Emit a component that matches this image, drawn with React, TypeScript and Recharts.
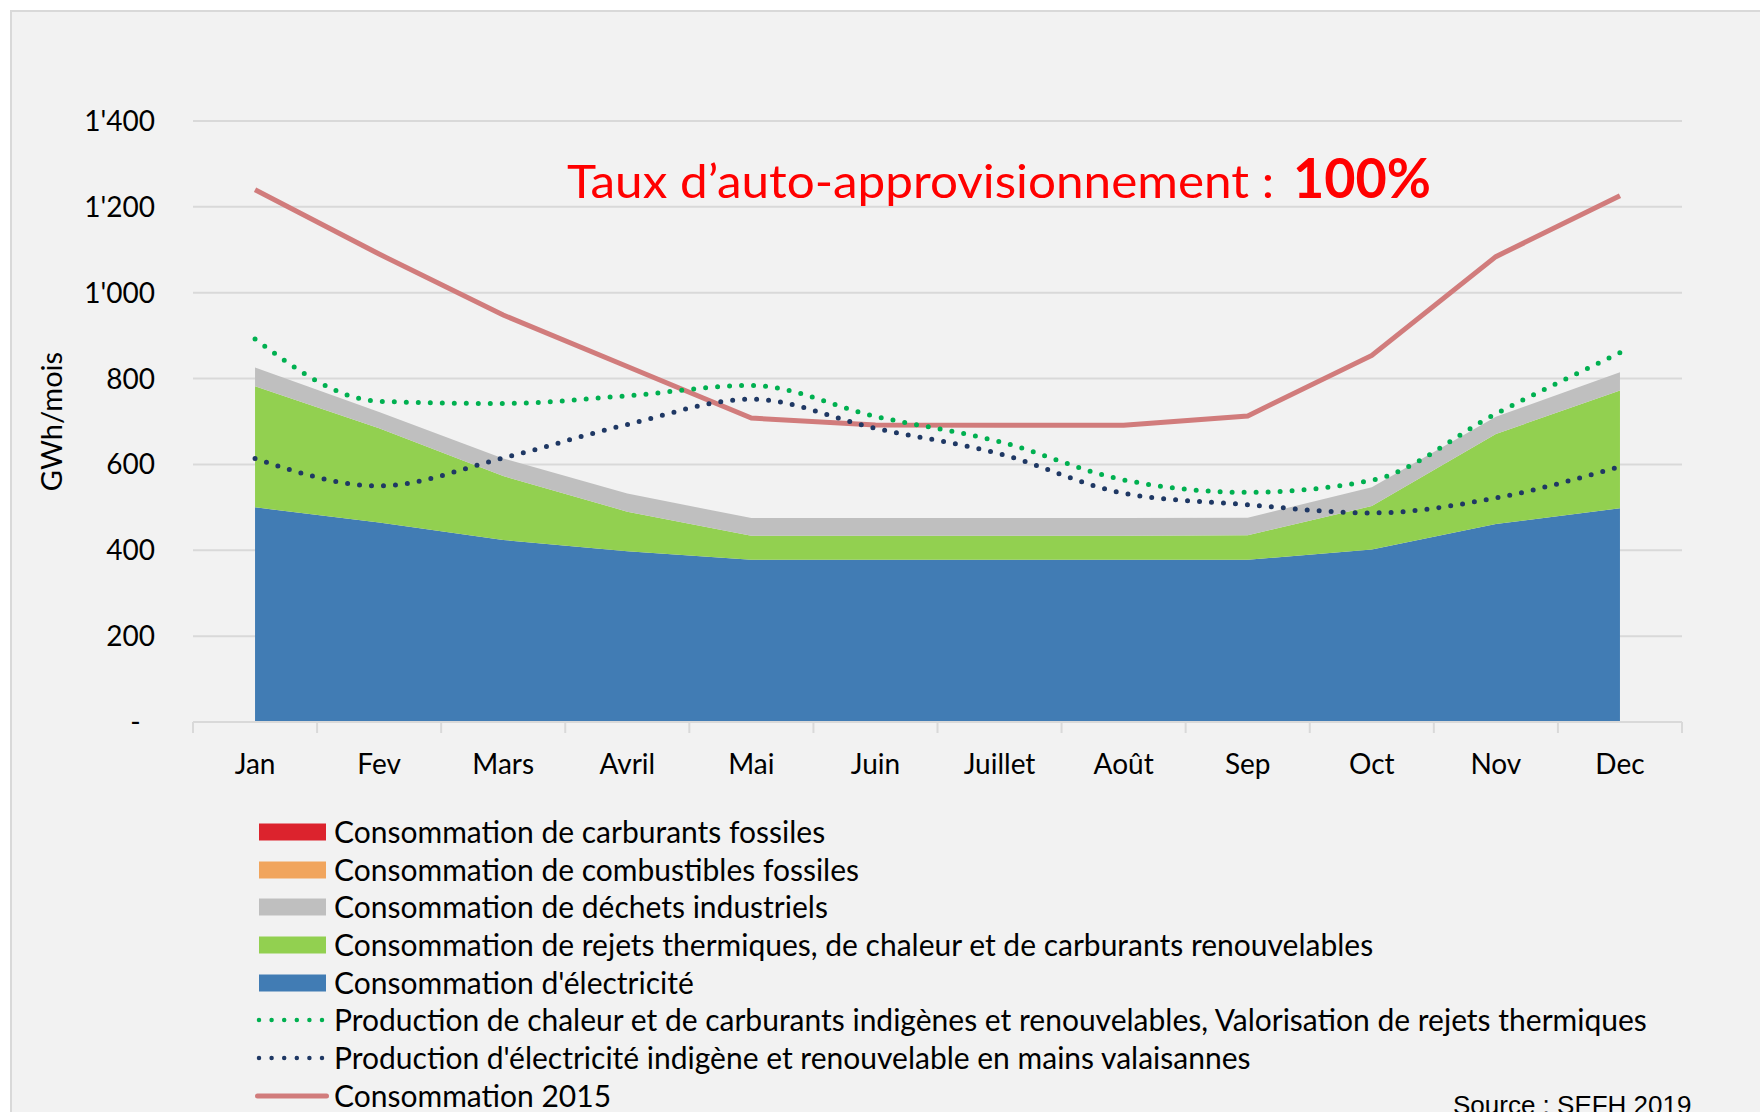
import React from "react";
import { ComposedChart, Area, Line, XAxis, YAxis, CartesianGrid, Legend, Label } from "recharts";

// Valeurs (GWh/mois)
const MONTHS = ["Jan", "Fev", "Mars", "Avril", "Mai", "Juin", "Juillet", "Août", "Sep", "Oct", "Nov", "Dec"];
const ELECTRICITE = [500, 465, 424, 398, 378, 378, 378, 378, 378, 402, 461, 498];
const REJETS = [282, 219, 149, 92, 56, 56, 56, 56, 57, 101, 210, 274];
const DECHETS = [44, 38, 41, 42, 41, 41, 41, 41, 41, 44, 40, 43];
const COMBUSTIBLES = [0, 0, 0, 0, 0, 0, 0, 0, 0, 0, 0, 0];
const CARBURANTS = [0, 0, 0, 0, 0, 0, 0, 0, 0, 0, 0, 0];
const PROD_CHALEUR = [892, 747, 742, 760, 784, 712, 653, 564, 535, 563, 718, 860];
const PROD_ELEC = [614, 550, 615, 693, 752, 684, 625, 533, 506, 487, 522, 595];
const CONSO_2015 = [1240, 1090, 948, 828, 708, 692, 691, 691, 713, 854, 1084, 1226];
const Y_TICKS = [0, 200, 400, 600, 800, 1000, 1200, 1400];

const data = MONTHS.map((month, i) => ({
  month,
  electricite: ELECTRICITE[i],
  rejets: REJETS[i],
  dechets: DECHETS[i],
  combustibles: COMBUSTIBLES[i],
  carburants: CARBURANTS[i],
  prodChaleur: PROD_CHALEUR[i],
  prodElec: PROD_ELEC[i],
  conso2015: CONSO_2015[i],
}));

// styles des séries (ordre = ordre de la légende)
const SERIES: Record<string, { name: string; color: string; kind: "area" | "dots" | "line" }> = {
  carburants: { name: "Consommation de carburants fossiles", color: "#dc232d", kind: "area" },
  combustibles: { name: "Consommation de combustibles fossiles", color: "#f1a55d", kind: "area" },
  dechets: { name: "Consommation de déchets industriels", color: "#bfbfbf", kind: "area" },
  rejets: { name: "Consommation de rejets thermiques, de chaleur et de carburants renouvelables", color: "#92d050", kind: "area" },
  electricite: { name: "Consommation d'électricité", color: "#417cb4", kind: "area" },
  prodChaleur: { name: "Production de chaleur et de carburants indigènes et renouvelables, Valorisation de rejets thermiques", color: "#00b050", kind: "dots" },
  prodElec: { name: "Production d'électricité indigène et renouvelable en mains valaisannes", color: "#1f3864", kind: "dots" },
  conso2015: { name: "Consommation 2015", color: "#d17c7c", kind: "line" },
};
const LEGEND_ORDER = Object.keys(SERIES);

const W = 1760;
const H = 1112;
const PLOT_LEFT = 193;
const PLOT_RIGHT = 1682;
const PLOT_TOP = 121;
const PLOT_BOTTOM = 722;
const XAXIS_H = 60;
const BAND = (PLOT_RIGHT - PLOT_LEFT) / MONTHS.length;
const FONT = "Lato, 'Open Sans', sans-serif";

const fmtY = (v: number) => {
  if (v === 0) return "-\u00a0\u00a0";
  if (v >= 1000) return `${Math.floor(v / 1000)}'${String(v % 1000).padStart(3, "0")}`;
  return String(v);
};

// étiquette du mois au centre, petit trait entre les catégories
const MonthTick = (props: any) => {
  const { x, y, payload, index } = props;
  const half = BAND / 2;
  return (
    <g>
      <line x1={x - half} x2={x - half} y1={y} y2={y + 11} stroke="#d9d9d9" strokeWidth={2} />
      {index === MONTHS.length - 1 && (
        <line x1={x + half} x2={x + half} y1={y} y2={y + 11} stroke="#d9d9d9" strokeWidth={2} />
      )}
      <text x={x} y={y + 41} textAnchor="middle" dominantBaseline="central" fontFamily={FONT} fontSize={28} fill="#000">
        {payload.value}
      </text>
    </g>
  );
};

const renderYLabel = (p: any) => {
  const vb = p.viewBox;
  const cx = vb.x + 30;
  const cy = vb.y + vb.height / 2;
  return (
    <text
      x={cx}
      y={cy}
      transform={`rotate(-90 ${cx} ${cy})`}
      textAnchor="middle"
      dominantBaseline="central"
      fontFamily={FONT}
      fontSize={29}
      fill="#000"
    >
      GWh/mois
    </text>
  );
};

const Swatch = ({ kind, color }: { kind: string; color: string }) => (
  <svg width={79} height={20} style={{ flex: "none" }}>
    {kind === "area" && <rect x={4} y={1.5} width={67} height={17} fill={color} />}
    {kind === "dots" && (
      <line x1={4} x2={68} y1={10} y2={10} stroke={color} strokeWidth={4.5} strokeDasharray="0 12.6" strokeLinecap="round" />
    )}
    {kind === "line" && (
      <line x1={2.5} x2={71.5} y1={10} y2={10} stroke={color} strokeWidth={5} strokeLinecap="round" />
    )}
  </svg>
);

const renderLegend = (props: any) => {
  const items = [...(props.payload || [])].sort(
    (a: any, b: any) => LEGEND_ORDER.indexOf(a.dataKey) - LEGEND_ORDER.indexOf(b.dataKey)
  );
  return (
    <div style={{ fontFamily: FONT, fontSize: 30, color: "#000" }}>
      {items.map((entry: any) => {
        const s = SERIES[entry.dataKey];
        return (
          <div key={entry.dataKey} style={{ display: "flex", alignItems: "center", height: 37.7, lineHeight: "37.7px", whiteSpace: "nowrap" }}>
            <Swatch kind={s.kind} color={s.color} />
            <span>{entry.value}</span>
          </div>
        );
      })}
    </div>
  );
};

export default function App() {
  return (
    <div style={{ position: "absolute", left: 0, top: 0, width: W, height: H, background: "#fff", overflow: "hidden" }}>
      <div
        style={{
          position: "absolute",
          left: 10,
          top: 10,
          width: W,
          height: H,
          background: "#f2f2f2",
          borderTop: "2px solid #d9d9d9",
          borderLeft: "2px solid #d9d9d9",
        }}
      />
      <div style={{ position: "absolute", left: 0, top: 0 }}>
        <ComposedChart
          width={W}
          height={H}
          data={data}
          margin={{ top: PLOT_TOP, right: W - PLOT_RIGHT, bottom: H - PLOT_BOTTOM - XAXIS_H, left: 20 }}
        >
          <CartesianGrid vertical={false} stroke="#d9d9d9" strokeWidth={2} />
          <XAxis
            dataKey="month"
            scale="band"
            interval={0}
            height={XAXIS_H}
            axisLine={{ stroke: "#d9d9d9", strokeWidth: 2 }}
            tickLine={false}
            tickSize={0}
            tickMargin={0}
            tick={<MonthTick />}
          />
          <YAxis
            width={PLOT_LEFT - 20}
            domain={[0, 1400]}
            ticks={Y_TICKS}
            tickFormatter={fmtY}
            axisLine={false}
            tickLine={false}
            tickSize={0}
            tickMargin={38}
            tick={{ fontFamily: FONT, fontSize: 28, fill: "#000" }}
          >
            <Label content={renderYLabel} />
          </YAxis>
          <Legend
            content={renderLegend}
            layout="horizontal"
            verticalAlign="middle"
            align="center"
            wrapperStyle={{ left: 255, top: 813, width: 1450 }}
          />
          {["electricite", "rejets", "dechets", "combustibles", "carburants"].map((k) => (
            <Area
              key={k}
              type="linear"
              dataKey={k}
              name={SERIES[k].name}
              stackId="conso"
              fill={SERIES[k].color}
              fillOpacity={1}
              stroke="none"
              dot={false}
              activeDot={false}
              isAnimationActive={false}
            />
          ))}
          <Line
            type="linear"
            dataKey="conso2015"
            name={SERIES.conso2015.name}
            stroke={SERIES.conso2015.color}
            strokeWidth={5}
            dot={false}
            activeDot={false}
            isAnimationActive={false}
          />
          {["prodChaleur", "prodElec"].map((k) => (
            <Line
              key={k}
              type="monotone"
              dataKey={k}
              name={SERIES[k].name}
              stroke={SERIES[k].color}
              strokeWidth={5}
              strokeDasharray="0 12"
              strokeLinecap="round"
              dot={false}
              activeDot={false}
              isAnimationActive={false}
            />
          ))}
        </ComposedChart>
      </div>
      <svg width={W} height={H} style={{ position: "absolute", left: 0, top: 0, pointerEvents: "none" }}>
        <text x={567} y={197.5} fontFamily={FONT} fontSize={47} fill="#ff0000" textLength={707} lengthAdjust="spacingAndGlyphs">
          Taux d’auto-approvisionnement :
        </text>
        <text x={1293} y={197.5} fontFamily={FONT} fontSize={56} fontWeight="bold" fill="#ff0000" textLength={138} lengthAdjust="spacingAndGlyphs">
          100%
        </text>
        <text x={1453} y={1114} fontFamily="'Liberation Sans', Arial, sans-serif" fontSize={26} fill="#000">
          Source : SEFH 2019
        </text>
      </svg>
    </div>
  );
}
